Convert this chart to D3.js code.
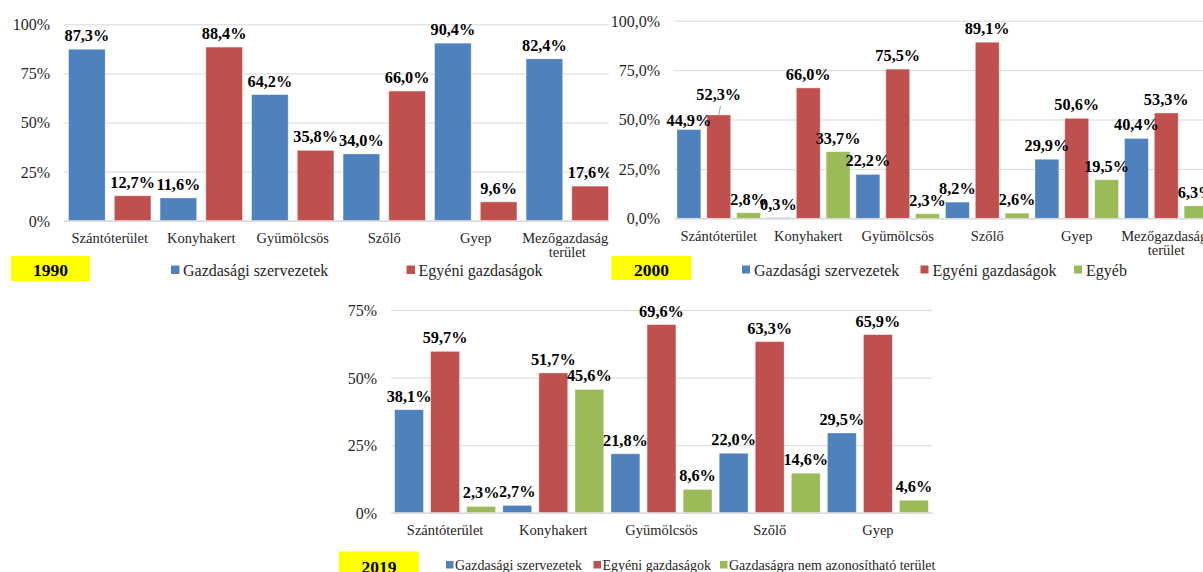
<!DOCTYPE html>
<html lang="hu">
<head>
<meta charset="utf-8">
<script src="https://cdn.jsdelivr.net/npm/d3@7"></script>
<style>
  html, body { margin: 0; padding: 0; background: #fff; }
  svg { display: block; }
  svg text { font-family: "Liberation Serif", "DejaVu Serif", serif !important; }
</style>
</head>
<body>
<svg id="chart" width="1203" height="572"></svg>
<script>
// --- data (percent) ---
const categories1990 = ["Szántóterület", "Konyhakert", "Gyümölcsös", "Szőlő", "Gyep", "Mezőgazdasági terület"];
const orgs1990 = [87.3, 11.6, 64.2, 34.0, 90.4, 82.4];
const indiv1990 = [12.7, 88.4, 35.8, 66.0, 9.6, 17.6];

const categories2000 = ["Szántóterület", "Konyhakert", "Gyümölcsös", "Szőlő", "Gyep", "Mezőgazdasági terület"];
const orgs2000 = [44.9, 0.3, 22.2, 8.2, 29.9, 40.4];
const indiv2000 = [52.3, 66.0, 75.5, 89.1, 50.6, 53.3];
const other2000 = [2.8, 33.7, 2.3, 2.6, 19.5, 6.3];

const categories2019 = ["Szántóterület", "Konyhakert", "Gyümölcsös", "Szőlő", "Gyep"];
const orgs2019 = [38.1, 2.7, 21.8, 22.0, 29.5];
const indiv2019 = [59.7, 51.7, 69.6, 63.3, 65.9];
const other2019 = [2.3, 45.6, 8.6, 14.6, 4.6];

const names1990 = ["Gazdasági szervezetek", "Egyéni gazdaságok"];
const names2000 = ["Gazdasági szervezetek", "Egyéni gazdaságok", "Egyéb"];
const names2019 = ["Gazdasági szervezetek", "Egyéni gazdaságok", "Gazdaságra nem azonosítható terület"];

const ticks1990 = [0, 25, 50, 75, 100];
const ticks2000 = [0, 25, 50, 75, 100];
const ticks2019 = [0, 25, 50, 75];

const SERIES_COLORS = ["#4F81BD", "#C0504D", "#9BBB59"];
const TEXT_COLOR = "#262626";
const GRID_COLOR = "#d9d9d9";
const FONT = "'Liberation Serif', 'DejaVu Serif', serif";

const svg = d3.select("#chart").attr("font-family", FONT);

const pct = (digits) => (v) => d3.format(`.${digits}f`)(v).replace(".", ",") + "%";

// split a category label into lines when it is wider than the band
function wrap(selection, maxWidth, lineHeight) {
  selection.each(function () {
    const text = d3.select(this);
    const words = text.text().split(/\s+/);
    if (this.getComputedTextLength() <= maxWidth || words.length < 2) return;
    const y = +text.attr("y");
    const dy = text.attr("dy");
    text.text(null);
    let line = [];
    let lineNo = 0;
    let tspan = text.append("tspan").attr("x", 0).attr("y", y).attr("dy", dy);
    words.forEach((word) => {
      line.push(word);
      tspan.text(line.join(" "));
      if (tspan.node().getComputedTextLength() > maxWidth && line.length > 1) {
        line.pop();
        tspan.text(line.join(" "));
        line = [word];
        lineNo += 1;
        tspan = text.append("tspan").attr("x", 0).attr("y", y + lineNo * lineHeight).attr("dy", dy).text(word);
      }
    });
  });
}

function drawPanel(p) {
  const g = svg.append("g");

  if (p.background) {
    g.append("rect")
      .attr("x", p.background.x)
      .attr("y", p.background.y)
      .attr("width", p.background.w)
      .attr("height", p.background.h)
      .attr("fill", "#fff");
  }

  const x = d3.scaleBand().domain(p.categories).range([p.left, p.right]);
  const xs = d3.scaleBand().domain(d3.range(p.series.length)).range([0, x.bandwidth()]).paddingInner(0.2).paddingOuter(0.1);
  const y = d3.scaleLinear().domain([0, p.max]).range([p.bottom, p.top]);

  // gridlines + y tick labels
  const yAxis = g
    .append("g")
    .attr("transform", `translate(${p.left},0)`)
    .call(d3.axisLeft(y).tickValues(p.ticks).tickSize(-(p.right - p.left)).tickPadding(14).tickFormat(pct(p.tickDigits)));
  yAxis.attr("font-family", FONT).attr("font-size", null);
  yAxis.select(".domain").remove();
  yAxis.selectAll(".tick line").attr("stroke", GRID_COLOR).attr("stroke-width", 1);
  yAxis.selectAll(".tick text").attr("fill", TEXT_COLOR).attr("font-size", 16).attr("dy", "0.34em");

  // bars
  p.series.forEach((values, s) => {
    g.append("g")
      .selectAll("rect")
      .data(values)
      .join("rect")
      .attr("x", (d, i) => x(p.categories[i]) + xs(s))
      .attr("y", (d) => y(d))
      .attr("width", xs.bandwidth())
      .attr("height", (d) => y(0) - y(d))
      .attr("fill", SERIES_COLORS[s])
      .attr("stroke", "rgba(255,255,255,0.45)")
      .attr("stroke-width", 0.8);
  });

  // x axis
  const xAxis = g
    .append("g")
    .attr("transform", `translate(0,${p.bottom})`)
    .call(d3.axisBottom(x).tickSize(0).tickSizeOuter(0));
  xAxis.attr("font-family", FONT).attr("font-size", null);
  xAxis.select(".domain").attr("stroke", GRID_COLOR).attr("stroke-width", 1.2);
  xAxis
    .selectAll(".tick text")
    .attr("fill", TEXT_COLOR)
    .attr("font-size", 14.5)
    .attr("y", 17.5)
    .attr("dy", "0.33em")
    .call(wrap, x.bandwidth() - 4, 14);

  // data labels
  const shifts = p.labelShifts || [];
  p.series.forEach((values, s) => {
    values.forEach((v, i) => {
      const cx = x(p.categories[i]) + xs(s) + xs.bandwidth() / 2;
      const shift = shifts.find((d) => d.s === s && d.i === i);
      const lift = shift ? shift.dy : 0;
      if (shift && shift.leader) {
        g.append("line")
          .attr("x1", cx)
          .attr("y1", y(v))
          .attr("x2", cx + 1.8)
          .attr("y2", y(v) - 9)
          .attr("stroke", "#8c8c8c")
          .attr("stroke-width", 0.8);
      }
      g.append("text")
        .attr("x", cx)
        .attr("y", y(v) - 8 + lift)
        .attr("text-anchor", "middle")
        .attr("font-weight", "bold")
        .attr("font-size", 16.3)
        .attr("fill", "#000")
        .text(pct(1)(v));
    });
  });

  // year box
  const b = p.yearBox;
  g.append("rect").attr("x", b.x).attr("y", b.y).attr("width", b.w).attr("height", b.h).attr("fill", "#ffff00");
  g.append("text")
    .attr("x", b.x + b.w / 2)
    .attr("y", b.baseline)
    .attr("text-anchor", "middle")
    .attr("font-weight", "bold")
    .attr("font-size", 17.5)
    .attr("fill", "#000")
    .text(p.year);

  // legend
  const L = p.legend;
  p.names.forEach((name, s) => {
    g.append("rect")
      .attr("x", L.squareX[s])
      .attr("y", L.squareY)
      .attr("width", L.size)
      .attr("height", L.size)
      .attr("fill", SERIES_COLORS[s]);
    g.append("text")
      .attr("x", L.squareX[s] + L.textDx)
      .attr("y", L.baseline)
      .attr("font-size", L.fontSize)
      .attr("fill", TEXT_COLOR)
      .text(name);
  });
}

drawPanel({
  year: "1990",
  categories: categories1990,
  series: [orgs1990, indiv1990],
  names: names1990,
  ticks: ticks1990,
  tickDigits: 0,
  max: 100,
  left: 64,
  right: 613,
  top: 24.3,
  bottom: 220.7,
  yearBox: { x: 11, y: 256, w: 79, h: 25, baseline: 275.5 },
  legend: { squareX: [171, 406.5], squareY: 265.5, size: 8.5, textDx: 12, baseline: 275.5, fontSize: 16 },
});

drawPanel({
  year: "2000",
  background: { x: 609, y: 0, w: 594, h: 292 },
  categories: categories2000,
  series: [orgs2000, indiv2000, other2000],
  names: names2000,
  ticks: ticks2000,
  tickDigits: 1,
  max: 100,
  left: 674,
  right: 1211,
  top: 20.7,
  bottom: 218.3,
  labelShifts: [
    { s: 0, i: 0, dy: 4.5 },
    { s: 1, i: 0, dy: -7, leader: true },
  ],
  yearBox: { x: 611.5, y: 256, w: 80, h: 24, baseline: 275.5 },
  legend: { squareX: [742, 920.5, 1074], squareY: 265.5, size: 8, textDx: 12, baseline: 275.5, fontSize: 16 },
});

drawPanel({
  year: "2019",
  categories: categories2019,
  series: [orgs2019, indiv2019, other2019],
  names: names2019,
  ticks: ticks2019,
  tickDigits: 0,
  max: 75,
  left: 391,
  right: 932,
  top: 310,
  bottom: 512.7,
  yearBox: { x: 339, y: 551.5, w: 80, h: 25, baseline: 573 },
  legend: { squareX: [446, 593.5, 720], squareY: 561, size: 7.5, textDx: 9, baseline: 569.5, fontSize: 14 },
});
</script>
</body>
</html>
